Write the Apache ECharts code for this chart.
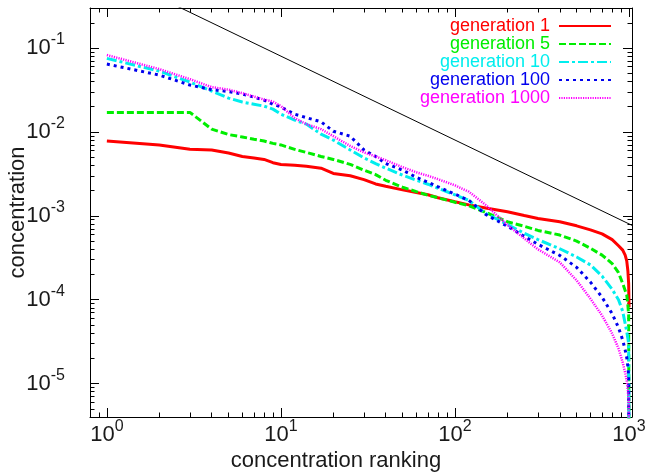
<!DOCTYPE html>
<html>
<head>
<meta charset="utf-8">
<script src="https://cdn.jsdelivr.net/npm/echarts@6/dist/echarts.min.js"></script>
<style>
html, body { margin: 0; padding: 0; background: #fff; }
#chart { width: 651px; height: 473px; }
</style>
</head>
<body>
<div id="chart"></div>
<script>
// ranks read along the x axis
const ranks = [1, 2, 3, 4, 5, 6, 7, 8, 9, 10, 12, 14, 17, 20, 25, 30, 35, 40, 50, 60, 70, 80,
               100, 120, 150, 200, 250, 300, 400, 500, 600, 700, 800, 870, 920, 950, 970, 985, 995, 1000];

// concentration at each rank
const gen1 = [0.0078, 0.0070, 0.0062, 0.0061, 0.0056, 0.0051, 0.0049, 0.0047, 0.0043, 0.0041, 0.0040, 0.0039, 0.0037, 0.0032,
              0.0030, 0.0027, 0.0024, 0.00225, 0.00204, 0.0019, 0.00178, 0.00164, 0.00147, 0.00135, 0.00124, 0.00112,
              0.00101, 0.00093, 0.00085, 0.00076, 0.00068, 0.00061, 0.00052, 0.00044, 0.00039, 0.00034, 0.00029,
              0.00022, 0.000156, 0.000081];
const gen5 = [0.0171, 0.0171, 0.0171, 0.0108, 0.0093, 0.0087, 0.0082, 0.0078, 0.0073, 0.0070, 0.0062, 0.0057, 0.0051, 0.0047,
              0.0041, 0.0035, 0.0031, 0.00265, 0.00219, 0.00194, 0.00176, 0.00164, 0.00145, 0.00132, 0.0011, 0.00085,
              0.00075, 0.00067, 0.00059, 0.0005, 0.00041, 0.00034, 0.00027, 0.00021, 0.000156, 0.000129, 0.000114,
              0.000086, 0.000065, 0.000001];
const gen10 = [0.0753, 0.053, 0.0393, 0.0307, 0.0253, 0.0227, 0.0214, 0.0203, 0.0187, 0.0163, 0.0138, 0.0124, 0.0094, 0.008,
               0.0061, 0.0049, 0.0042, 0.0037, 0.00305, 0.00265, 0.00238, 0.00213, 0.00178, 0.00153, 0.00107, 0.00079,
               0.00062, 0.00052, 0.000405, 0.000323, 0.00026, 0.000191, 0.000133, 0.0001, 0.0000725, 0.000052, 0.0000418,
               0.0000345, 0.00003, 0.000001];
const gen100 = [0.0644, 0.0476, 0.0362, 0.0319, 0.0303, 0.0282, 0.026, 0.0239, 0.0214, 0.0198, 0.0163, 0.0148, 0.0132, 0.0102,
                0.0089, 0.0061, 0.0051, 0.0042, 0.0035, 0.00288, 0.00251, 0.00222, 0.00181, 0.00153, 0.00104, 0.00075,
                0.00057, 0.000457, 0.000337, 0.000243, 0.000162, 0.000107, 0.000068, 0.0000465, 0.000033, 0.0000252,
                0.0000204, 0.0000159, 0.0000123, 0.000001];
const gen1000 = [0.0825, 0.0561, 0.0426, 0.0342, 0.0319, 0.029, 0.0264, 0.0243, 0.023, 0.0203, 0.0146, 0.0124, 0.0108, 0.0089,
                 0.0068, 0.0057, 0.0051, 0.0046, 0.0038, 0.0033, 0.0030, 0.00273, 0.00231, 0.00194, 0.00135, 0.00078,
                 0.00054, 0.000398, 0.000279, 0.00017, 0.000103, 0.0000648, 0.0000395, 0.0000262, 0.0000178, 0.0000135,
                 0.0000109, 0.0000082, 0.0000063, 0.000001];

// thin black guide line (slope -1)
const guideX = [1, 1040];
const guideY = [0.8, 0.00077];

const names = ['generation 1', 'generation 5', 'generation 10', 'generation 100', 'generation 1000'];
const colors = ['#ff0000', '#00ee00', '#00eeee', '#0000ee', '#ff00ff'];

const FONT = "'Liberation Sans', Arial, Helvetica, sans-serif";
const INK = '#1a1a1a';

const chart = echarts.init(document.getElementById('chart'), null, { renderer: 'canvas' });

const zip = (xs, ys) => xs.map((x, i) => [x, ys[i]]);
const powLabel = v => {
    const e = Math.round(Math.log10(v));
    if (Math.abs(Math.log10(v) - e) > 1e-6) return '';
    return '{b|10}{s|' + e + '}';
};
const labelRich = {
    b: { fontSize: 22, fontFamily: FONT, color: INK, padding: [5, 0, 5, 0] },
    s: { fontSize: 16, fontFamily: FONT, color: INK, verticalAlign: 'top' }
};

const styles = [
    { width: 3, type: 'solid' },
    { width: 3, type: [7, 3] },
    { width: 3, type: [10, 3, 3, 3] },
    { width: 3, type: [3, 4] },
    { width: 2.5, type: [1.2, 1.2] }
];
const seriesData = [gen1, gen5, gen10, gen100, gen1000];

const axisCommon = {
    type: 'log',
    logBase: 10,
    axisLine: { lineStyle: { color: '#000', width: 1 } },
    axisTick: { inside: true, length: 9, lineStyle: { color: '#000' } },
    minorTick: { show: true, splitNumber: 9, length: 4.5, lineStyle: { color: '#000' } },
    splitLine: { show: false },
    minorSplitLine: { show: false }
};

chart.setOption({
    animation: false,
    backgroundColor: '#fff',
    grid: { left: 90, right: 19, top: 8, bottom: 56, outerBoundsMode: 'none', containLabel: false },
    legend: {
        orient: 'vertical',
        right: 34, top: 12,
        align: 'right',
        itemWidth: 52, itemHeight: 14, itemGap: 0,
        itemStyle: { opacity: 0 },
        textStyle: { fontSize: 18, fontFamily: FONT, lineHeight: 18, padding: [0, 4, 0, 0] },
        data: names.map((n, i) => ({ name: n, textStyle: { color: colors[i] } }))
    },
    xAxis: [
        Object.assign({}, axisCommon, {
            min: 0.8, max: 1040,
            name: 'concentration ranking', nameLocation: 'middle', nameGap: 33, nameMoveOverlap: false,
            nameTextStyle: { fontSize: 22, fontFamily: FONT, color: INK, padding: [0, 50, 0, 0] },
            axisLabel: { margin: 2, formatter: powLabel, rich: labelRich, showMinLabel: false, showMaxLabel: false }
        }),
        Object.assign({}, axisCommon, {
            min: 0.8, max: 1040, position: 'top', axisLabel: { show: false }
        })
    ],
    yAxis: [
        Object.assign({}, axisCommon, {
            min: 0.000004, max: 0.3,
            name: 'concentration', nameLocation: 'middle', nameGap: 61, nameMoveOverlap: false,
            nameTextStyle: { fontSize: 22, fontFamily: FONT, color: INK },
            axisLabel: { margin: 25, formatter: powLabel, rich: labelRich, showMinLabel: false, showMaxLabel: false }
        }),
        Object.assign({}, axisCommon, {
            min: 0.000004, max: 0.3, position: 'right', axisLabel: { show: false }
        })
    ],
    series: [
        {
            name: 'guide', type: 'line', data: zip(guideX, guideY), symbol: 'none', silent: true,
            lineStyle: { color: '#000', width: 1 }, clip: true
        }
    ].concat(names.map((n, i) => ({
        name: n, type: 'line', data: zip(ranks, seriesData[i]), symbol: 'none', clip: true,
        itemStyle: { color: colors[i] },
        lineStyle: { color: colors[i], width: styles[i].width, type: styles[i].type }
    })))
});
</script>
</body>
</html>
